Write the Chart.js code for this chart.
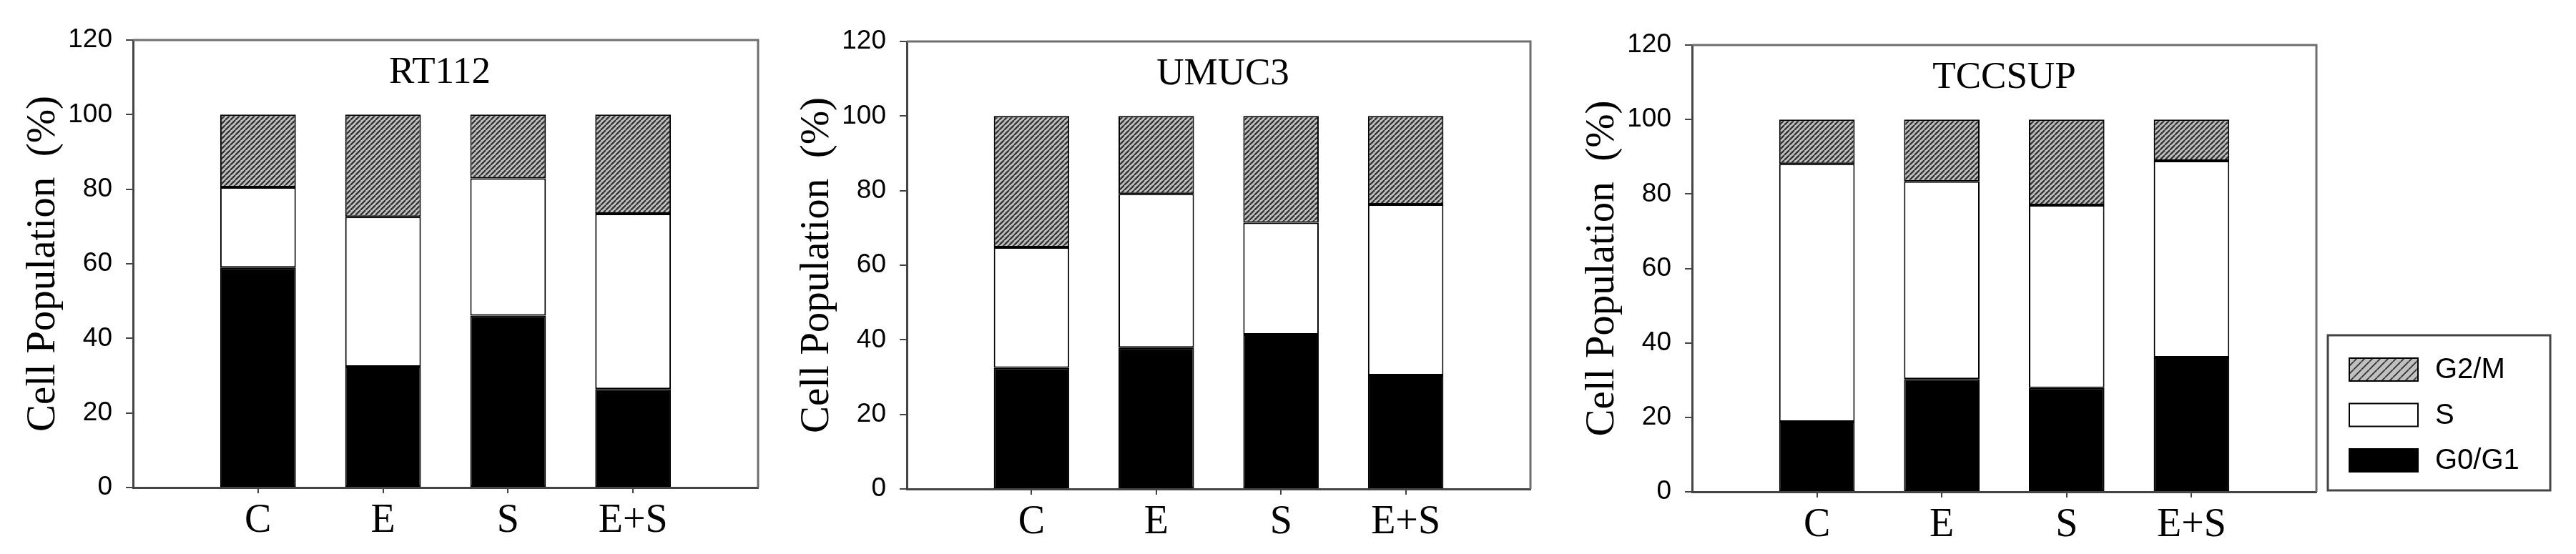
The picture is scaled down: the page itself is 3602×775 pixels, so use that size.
<!DOCTYPE html>
<html>
<head>
<meta charset="utf-8">
<script src="https://cdn.jsdelivr.net/npm/chart.js@4.4.1/dist/chart.umd.min.js"></script>
<style>
  html, body { margin: 0; padding: 0; background: #fff; }
  body { width: 3602px; height: 775px; position: relative; overflow: hidden; }
  canvas { position: absolute; top: 0; }
</style>
</head>
<body>
<canvas id="c1" width="1082" height="775" style="left:0px"></canvas>
<canvas id="c2" width="1098" height="775" style="left:1082px"></canvas>
<canvas id="c3" width="1422" height="775" style="left:2180px"></canvas>
<script>
// ---- data ----
const categories = ['C', 'E', 'S', 'E+S'];
const phaseNames = ['G0/G1', 'S', 'G2/M'];
const yTicks = [0, 20, 40, 60, 80, 100, 120];

const rt112G0G1 = [59.0, 32.4, 46.1, 26.4];
const rt112S    = [21.5, 40.2, 36.8, 47.0];
const rt112G2M  = [19.5, 27.4, 17.1, 26.6];

const umuc3G0G1 = [32.5, 37.9, 41.4, 30.5];
const umuc3S    = [32.3, 41.2, 30.0, 45.8];
const umuc3G2M  = [35.2, 20.9, 28.6, 23.7];

const tccsupG0G1 = [18.8, 30.3, 27.9, 36.1];
const tccsupS    = [69.3, 53.1, 49.1, 52.8];
const tccsupG2M  = [11.9, 16.6, 23.0, 11.1];

Chart.defaults.color = '#000';
Chart.defaults.font.family = '"Liberation Sans", Arial, sans-serif';

const SERIF = '"Liberation Serif", "Times New Roman", serif';
const AXIS = '#444';

// diagonal hatch fill
function hatch(size, lw) {
    const t = document.createElement('canvas');
    t.width = size; t.height = size;
    const c = t.getContext('2d');
    c.fillStyle = '#c0c0c0';
    c.fillRect(0, 0, size, size);
    c.strokeStyle = '#333';
    c.lineWidth = lw;
    c.beginPath();
    [-size, 0, size].forEach(o => { c.moveTo(o, size); c.lineTo(o + size, 0); });
    c.stroke();
    return c.createPattern(t, 'repeat');
}
const barHatch = hatch(7, 2.3);
const keyHatch = hatch(11, 1.8);

// title written inside the plot frame
const panelTitle = {
    id: 'panelTitle',
    afterDraw(chart, args, opts) {
        const { left, right, top } = chart.chartArea;
        const ctx = chart.ctx;
        ctx.save();
        ctx.font = '53px ' + SERIF;
        ctx.fillStyle = '#000';
        ctx.textAlign = 'center';
        ctx.textBaseline = 'alphabetic';
        ctx.fillText(opts.text, (left + right) / 2 + (opts.dx || 0), top + 60);
        ctx.restore();
    }
};

// top + right sides of the box
const frame = {
    id: 'frame',
    beforeDatasetsDraw(chart) {
        const { left, right, top, bottom } = chart.chartArea;
        const ctx = chart.ctx;
        ctx.save();
        ctx.strokeStyle = '#6e6e6e';
        ctx.lineWidth = 3;
        ctx.beginPath();
        ctx.moveTo(left, top);
        ctx.lineTo(right, top);
        ctx.lineTo(right, bottom);
        ctx.stroke();
        ctx.restore();
    }
};

// boxed key, drawn from the datasets themselves (top to bottom = reverse stack order)
const keyBox = {
    id: 'keyBox',
    afterDraw(chart, args, o) {
        if (!o.show) return;
        const ctx = chart.ctx;
        ctx.save();
        ctx.strokeStyle = AXIS;
        ctx.lineWidth = 3;
        ctx.strokeRect(o.x, o.y, o.w, o.h);
        chart.data.datasets.slice().reverse().forEach((ds, i) => {
            const y = o.y + o.first + i * o.step;
            ctx.fillStyle = ds.keyFill || ds.backgroundColor;
            ctx.fillRect(o.sx, y, o.sw, o.sh);
            ctx.lineWidth = 2;
            ctx.strokeStyle = '#000';
            ctx.strokeRect(o.sx, y, o.sw, o.sh);
            ctx.fillStyle = '#000';
            ctx.font = '40px "Liberation Sans", Arial, sans-serif';
            ctx.textAlign = 'left';
            ctx.textBaseline = 'middle';
            ctx.fillText(ds.label, o.tx, y + o.sh / 2 + 1);
        });
        ctx.restore();
    }
};

function pad(arr) { return [null, ...arr, null]; }

function makePanel(id, title, g0, s, g2, lay) {
    const common = { categoryPercentage: 1, barPercentage: 0.605, borderColor: '#000',
                     borderWidth: 2, borderSkipped: false, inflateAmount: 0 };
    new Chart(document.getElementById(id), {
        type: 'bar',
        data: {
            labels: ['', ...categories, ''],
            datasets: [
                { label: phaseNames[0], data: pad(g0), backgroundColor: '#000', ...common },
                { label: phaseNames[1], data: pad(s), backgroundColor: '#fff', ...common },
                { label: phaseNames[2], data: pad(g2), backgroundColor: barHatch, keyFill: keyHatch, ...common }
            ]
        },
        options: {
            responsive: false,
            animation: false,
            layout: { padding: { left: 0, bottom: 0, top: lay.top, right: lay.right } },
            plugins: {
                legend: { display: false },
                tooltip: { enabled: false },
                panelTitle: { text: title, dx: lay.dx || 0 },
                keyBox: lay.key || { show: false }
            },
            scales: {
                x: {
                    stacked: true,
                    offset: false,
                    afterFit: sc => { sc.height = lay.xh; },
                    grid: {
                        offset: false,
                        drawOnChartArea: false,
                        drawTicks: true,
                        tickLength: 8,
                        lineWidth: 2,
                        tickColor: ctx => (ctx.index === 0 || ctx.index === categories.length + 1) ? 'rgba(0,0,0,0)' : AXIS
                    },
                    border: { display: true, color: AXIS, width: 3 },
                    ticks: {
                        autoSkip: false,
                        maxRotation: 0,
                        padding: 6,
                        font: { family: SERIF, size: 56 }
                    }
                },
                y: {
                    stacked: true,
                    min: yTicks[0],
                    max: yTicks[yTicks.length - 1],
                    afterFit: sc => { sc.width = 186; },
                    grid: {
                        drawOnChartArea: false,
                        drawTicks: true,
                        tickLength: 10,
                        lineWidth: 2,
                        color: AXIS
                    },
                    border: { display: true, color: AXIS, width: 3 },
                    ticks: {
                        stepSize: yTicks[1] - yTicks[0],
                        padding: 19,
                        font: { size: 37 }
                    },
                    title: {
                        display: true,
                        text: 'Cell Population  (%)',
                        font: { family: SERIF, size: 57 },
                        padding: { top: 27, bottom: 0 }
                    }
                }
            }
        },
        plugins: [frame, panelTitle, keyBox]
    });
}

makePanel('c1', 'RT112', rt112G0G1, rt112S, rt112G2M, { top: 56, right: 22, xh: 93, dx: -8 });
makePanel('c2', 'UMUC3', umuc3G0G1, umuc3S, umuc3G2M, { top: 58, right: 40, xh: 91, dx: 6 });
makePanel('c3', 'TCCSUP', tccsupG0G1, tccsupS, tccsupG2M, {
    top: 63, right: 363, xh: 87,
    key: { show: true, x: 1075, y: 469, w: 311, h: 217,
           sx: 1105, sw: 96, sh: 32, first: 32, step: 63.5, tx: 1225 }
});
</script>
</body>
</html>
